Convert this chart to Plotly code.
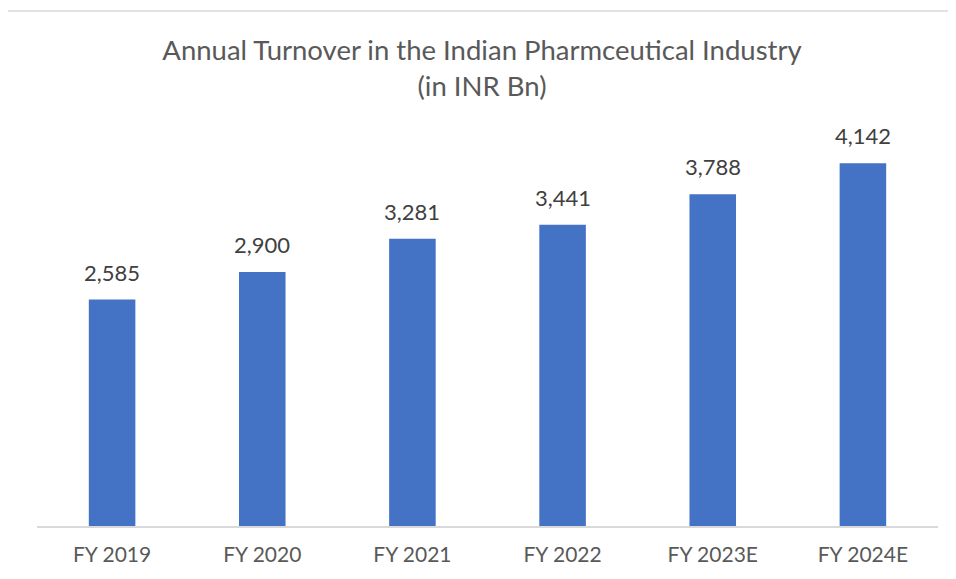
import plotly.graph_objects as go

categories = ["FY 2019", "FY 2020", "FY 2021", "FY 2022", "FY 2023E", "FY 2024E"]
turnover = [2585, 2900, 3281, 3441, 3788, 4142]
title_text = "Annual Turnover in the Indian Pharmceutical Industry<br>(in INR Bn)"

OFF = 8  # default page body margin
W, H = 956 - OFF, 579 - OFF
ml, mr, mt, mb = 37 - OFF, 18, 110 - OFF, 53
pw = W - ml - mr
ph = H - mt - mb

def px_to_paper_x(px):
    return (px - OFF - ml) / pw

def px_to_paper_y(py):
    return (H - mb - (py - OFF)) / ph

fig = go.Figure()
fig.add_trace(go.Bar(
    x=categories,
    y=turnover,
    marker=dict(color="#4472C4", line=dict(width=0)),
    width=0.31,
    hoverinfo="skip",
))

for c, v in zip(categories, turnover):
    fig.add_annotation(x=c, y=v, text=f"{v:,}", showarrow=False,
                       xanchor="center", yanchor="bottom", yshift=12,
                       font=dict(family="Lato", size=22, color="#404040"))

# outer chart border (top and left edges visible)
x0 = px_to_paper_x(7)
y0 = px_to_paper_y(11)
fig.add_shape(type="line", xref="paper", yref="paper",
              x0=x0, x1=px_to_paper_x(960), y0=y0, y1=y0,
              line=dict(color="#D9D9D9", width=1.5))
fig.add_shape(type="line", xref="paper", yref="paper",
              x0=x0, x1=x0, y0=y0, y1=px_to_paper_y(585),
              line=dict(color="#D9D9D9", width=1.5))

fig.update_layout(
    width=W, height=H,
    margin=dict(l=ml, r=mr, t=mt, b=mb),
    paper_bgcolor="white",
    plot_bgcolor="white",
    showlegend=False,
    title=dict(text=title_text, x=0.5, xanchor="center", y=1 - 52 / H, yanchor="top",
               font=dict(family="Lato", size=27.5, color="#595959")),
    xaxis=dict(showline=True, linecolor="#D9D9D9", linewidth=1.5, ticks="",
               tickfont=dict(family="Lato", size=21, color="#595959"),
               ticklabelstandoff=9,
               showgrid=False, zeroline=False),
    yaxis=dict(visible=False, range=[0, 4750], showgrid=False, zeroline=False),
    bargap=0.69,
)

fig.write_html("out.html")
